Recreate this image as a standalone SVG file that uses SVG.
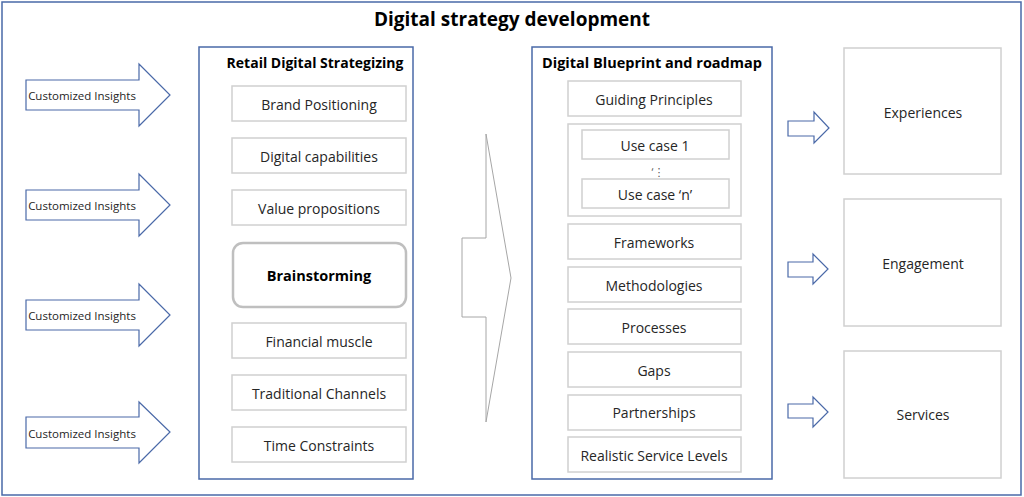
<svg xmlns="http://www.w3.org/2000/svg" width="1024" height="497" viewBox="0 0 1024 497">
<style>
text{font-family:"Open Sans","Noto Sans","DejaVu Sans",sans-serif;fill:#262626;text-anchor:middle;dominant-baseline:central}
.frame{fill:#fff;stroke:#4a69a8;stroke-width:1.5}
.box{fill:#fff;stroke:#d0d0d0;stroke-width:1.5}
.barrow{fill:#fff;stroke:#4a69a8;stroke-width:1.2}
.garrow{fill:#fff;stroke:#a6a6a6;stroke-width:1}
.t{font-size:14px}
.h{font-size:14.5px;font-weight:bold;fill:#000}
.ci{font-size:11.5px}
</style>
<rect x="0" y="0" width="1024" height="497" fill="#fff"/>
<rect id="outer" class="frame" x="2" y="2" width="1019" height="493"/>
<text x="512" y="19" style="font-size:19px;font-weight:bold;fill:#000">Digital strategy development</text>

<g id="connectors">
  <g id="insight-arrow-1">
    <polygon class="barrow" points="26,80 139,80 139,64 170,95 139,126 139,110 26,110"/>
    <text class="ci" x="82" y="95">Customized Insights</text>
  </g>
  <g id="insight-arrow-2">
    <polygon class="barrow" points="26,190 139,190 139,174 170,205 139,236 139,220 26,220"/>
    <text class="ci" x="82" y="205">Customized Insights</text>
  </g>
  <g id="insight-arrow-3">
    <polygon class="barrow" points="26,300 139,300 139,284 170,315 139,346 139,330 26,330"/>
    <text class="ci" x="82" y="315">Customized Insights</text>
  </g>
  <g id="insight-arrow-4">
    <polygon class="barrow" points="26,417 139,417 139,402 170,432 139,463 139,448 26,448"/>
    <text class="ci" x="82" y="433">Customized Insights</text>
  </g>
  <polygon id="big-arrow" class="garrow" points="462,238 486,238 486,134 511,278 486,422 486,317 462,317"/>
  <polygon id="out-arrow-1" class="barrow" points="788,121 814,121 814,112 829,128 814,143 814,136 788,136"/>
  <polygon id="out-arrow-2" class="barrow" points="788,262 813,262 813,254 828,269 813,284 813,277 788,277"/>
  <polygon id="out-arrow-3" class="barrow" points="788,404 813,404 813,397 828,412 813,427 813,418 788,418"/>
</g>

<g id="retail-digital-strategizing">
  <rect class="frame" x="199" y="47" width="214" height="432"/>
  <text x="315" y="62" style="font-size:14px;font-weight:bold;fill:#000">Retail Digital Strategizing</text>
  <g id="brand-positioning"><rect class="box" x="232" y="86" width="174" height="35"/><text class="t" x="319" y="104">Brand Positioning</text></g>
  <g id="digital-capabilities"><rect class="box" x="232" y="138" width="174" height="35"/><text class="t" x="319" y="156">Digital capabilities</text></g>
  <g id="value-propositions"><rect class="box" x="232" y="190" width="174" height="35"/><text class="t" x="319" y="208">Value propositions</text></g>
  <g id="brainstorming"><rect x="233" y="243" width="173" height="64" rx="10" fill="#fff" stroke="#bfbfbf" stroke-width="2.5"/><text x="319" y="275" style="font-size:14.5px;font-weight:bold;fill:#000">Brainstorming</text></g>
  <g id="financial-muscle"><rect class="box" x="232" y="323" width="174" height="35"/><text class="t" x="319" y="341">Financial muscle</text></g>
  <g id="traditional-channels"><rect class="box" x="232" y="375" width="174" height="35"/><text class="t" x="319" y="393">Traditional Channels</text></g>
  <g id="time-constraints"><rect class="box" x="232" y="427" width="174" height="35"/><text class="t" x="319" y="445">Time Constraints</text></g>
</g>

<g id="digital-blueprint">
  <rect class="frame" x="532" y="47" width="240" height="432"/>
  <text class="h" x="652" y="62">Digital Blueprint and roadmap</text>
  <g id="guiding-principles"><rect class="box" x="568" y="81" width="173" height="35"/><text class="t" x="654" y="99">Guiding Principles</text></g>
  <g id="use-cases">
    <rect class="box" x="568" y="124" width="173" height="92"/>
    <g id="use-case-1"><rect class="box" x="582" y="130" width="147" height="29"/><text class="t" x="655" y="145">Use case 1</text></g>
    <text x="658" y="171" style="font-size:11px;fill:#595959">‘⋮</text>
    <g id="use-case-n"><rect class="box" x="582" y="179" width="147" height="29"/><text class="t" x="655" y="194">Use case ‘n’</text></g>
  </g>
  <g id="frameworks"><rect class="box" x="568" y="224" width="173" height="35"/><text class="t" x="654" y="242">Frameworks</text></g>
  <g id="methodologies"><rect class="box" x="568" y="267" width="173" height="35"/><text class="t" x="654" y="285">Methodologies</text></g>
  <g id="processes"><rect class="box" x="568" y="309" width="173" height="35"/><text class="t" x="654" y="327">Processes</text></g>
  <g id="gaps"><rect class="box" x="568" y="352" width="173" height="35"/><text class="t" x="654" y="370">Gaps</text></g>
  <g id="partnerships"><rect class="box" x="568" y="395" width="173" height="35"/><text class="t" x="654" y="412">Partnerships</text></g>
  <g id="realistic-service-levels"><rect class="box" x="568" y="437" width="173" height="35"/><text class="t" x="654" y="455">Realistic Service Levels</text></g>
</g>

<g id="experiences"><rect class="box" x="844" y="48" width="157" height="126"/><text class="t" x="923" y="112">Experiences</text></g>
<g id="engagement"><rect class="box" x="844" y="199" width="157" height="127"/><text class="t" x="923" y="263">Engagement</text></g>
<g id="services"><rect class="box" x="844" y="351" width="157" height="127"/><text class="t" x="923" y="414">Services</text></g>
</svg>
